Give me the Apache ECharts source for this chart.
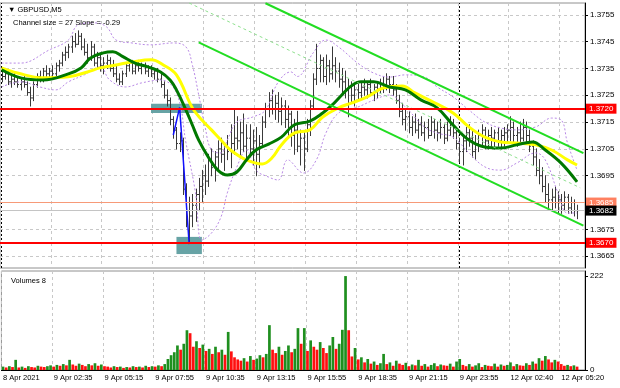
<!DOCTYPE html>
<html><head><meta charset="utf-8">
<script src="https://cdn.jsdelivr.net/npm/echarts@6/dist/echarts.min.js"></script>
<style>html,body{margin:0;padding:0;background:#fff}#c{width:620px;height:388px}</style>
</head><body><div id="c"></div>
<script>
// ---- data ----
const timeLabels = ['8 Apr 2021','9 Apr 02:35','9 Apr 05:15','9 Apr 07:55','9 Apr 10:35','9 Apr 13:15','9 Apr 15:55','9 Apr 18:35','9 Apr 21:15','9 Apr 23:55','12 Apr 02:40','12 Apr 05:20'];
const barsPerLabel = 16;
const firstOpen = 1.3731;
const high = [1.3734,1.3735,1.3734,1.3732,1.3733,1.3732,1.3731,1.3732,1.3730,1.3728,
1.3730,1.3733,1.3734,1.3735,1.3736,1.3735,1.3736,1.3737,1.3738,1.3741,
1.3743,1.3744,1.3747,1.3748,1.3749,1.3748,1.3746,1.3744,1.3745,1.3744,
1.3741,1.3740,1.3739,1.3740,1.3739,1.3738,1.3736,1.3733,1.3734,1.3737,
1.3738,1.3738,1.3737,1.3738,1.3737,1.3737,1.3736,1.3736,1.3735,1.3735,
1.3733,1.3730,1.3727,1.3724,1.3717,1.3713,1.3711,1.3709,1.3692,1.3687,
1.3688,1.3690,1.3694,1.3697,1.3699,1.3703,1.3705,1.3704,1.3708,1.3709,
1.3707,1.3710,1.3714,1.3720,1.3717,1.3715,1.3718,1.3714,1.3714,1.3712,
1.3713,1.3710,1.3717,1.3722,1.3726,1.3727,1.3725,1.3726,1.3724,1.3723,
1.3721,1.3719,1.3716,1.3719,1.3712,1.3711,1.3716,1.3723,1.3733,1.3744,
1.3740,1.3739,1.3740,1.3738,1.3743,1.3739,1.3737,1.3735,1.3734,1.3731,
1.3730,1.3729,1.3730,1.3730,1.3731,1.3730,1.3731,1.3729,1.3730,1.3731,
1.3732,1.3733,1.3732,1.3732,1.3729,1.3725,1.3722,1.3720,1.3719,1.3717,
1.3718,1.3716,1.3717,1.3715,1.3716,1.3717,1.3716,1.3715,1.3716,1.3714,
1.3715,1.3717,1.3716,1.3713,1.3709,1.3710,1.3713,1.3714,1.3712,1.3710,
1.3712,1.3714,1.3713,1.3712,1.3713,1.3712,1.3713,1.3712,1.3713,1.3714,
1.3717,1.3715,1.3713,1.3715,1.3716,1.3715,1.3712,1.3708,1.3705,1.3701,
1.3698,1.3695,1.3692,1.3690,1.3691,1.3689,1.3688,1.3689,1.3688,1.3687,
1.3686,1.3684];
const low = [1.3730,1.3731,1.3729,1.3728,1.3729,1.3728,1.3727,1.3728,1.3725,1.3721,
1.3723,1.3728,1.3730,1.3730,1.3732,1.3731,1.3732,1.3732,1.3734,1.3736,
1.3738,1.3739,1.3741,1.3743,1.3744,1.3742,1.3740,1.3737,1.3738,1.3736,
1.3735,1.3734,1.3733,1.3735,1.3734,1.3732,1.3730,1.3729,1.3729,1.3732,
1.3734,1.3733,1.3733,1.3734,1.3733,1.3733,1.3732,1.3732,1.3731,1.3730,
1.3728,1.3724,1.3721,1.3714,1.3709,1.3705,1.3704,1.3688,1.3676,1.3670,
1.3676,1.3678,1.3682,1.3685,1.3688,1.3691,1.3695,1.3693,1.3697,1.3700,
1.3697,1.3701,1.3698,1.3703,1.3705,1.3702,1.3704,1.3701,1.3703,1.3699,
1.3695,1.3698,1.3706,1.3713,1.3717,1.3718,1.3716,1.3715,1.3714,1.3713,
1.3710,1.3706,1.3703,1.3704,1.3699,1.3697,1.3704,1.3710,1.3720,1.3729,
1.3730,1.3730,1.3729,1.3730,1.3731,1.3730,1.3728,1.3726,1.3724,1.3717,
1.3722,1.3721,1.3723,1.3724,1.3725,1.3724,1.3725,1.3723,1.3724,1.3726,
1.3726,1.3727,1.3726,1.3725,1.3722,1.3717,1.3714,1.3712,1.3711,1.3710,
1.3711,1.3709,1.3710,1.3708,1.3709,1.3710,1.3709,1.3708,1.3709,1.3707,
1.3708,1.3710,1.3709,1.3705,1.3700,1.3699,1.3704,1.3706,1.3702,1.3701,
1.3704,1.3706,1.3705,1.3705,1.3706,1.3705,1.3706,1.3705,1.3706,1.3707,
1.3708,1.3707,1.3706,1.3707,1.3708,1.3707,1.3704,1.3699,1.3695,1.3692,
1.3689,1.3685,1.3683,1.3682,1.3683,1.3681,1.3681,1.3682,1.3681,1.3681,
1.3680,1.3679];
const close = [1.3732,1.3733,1.3730,1.3731,1.3730,1.3729,1.3730,1.3729,1.3726,1.3724,
1.3729,1.3732,1.3731,1.3734,1.3733,1.3734,1.3733,1.3736,1.3737,1.3740,
1.3741,1.3743,1.3745,1.3744,1.3747,1.3743,1.3741,1.3739,1.3743,1.3737,
1.3739,1.3736,1.3737,1.3738,1.3735,1.3733,1.3731,1.3730,1.3733,1.3736,
1.3737,1.3734,1.3736,1.3735,1.3736,1.3734,1.3735,1.3733,1.3734,1.3731,
1.3729,1.3725,1.3723,1.3716,1.3712,1.3707,1.3708,1.3690,1.3682,1.3680,
1.3684,1.3688,1.3691,1.3695,1.3693,1.3701,1.3698,1.3702,1.3705,1.3703,
1.3706,1.3704,1.3707,1.3709,1.3708,1.3711,1.3706,1.3709,1.3705,1.3708,
1.3703,1.3707,1.3715,1.3720,1.3723,1.3720,1.3722,1.3719,1.3721,1.3716,
1.3718,1.3710,1.3712,1.3706,1.3709,1.3705,1.3714,1.3721,1.3731,1.3735,
1.3738,1.3732,1.3736,1.3733,1.3736,1.3734,1.3731,1.3730,1.3727,1.3728,
1.3725,1.3727,1.3726,1.3728,1.3727,1.3729,1.3726,1.3728,1.3727,1.3729,
1.3728,1.3731,1.3729,1.3727,1.3723,1.3719,1.3716,1.3717,1.3713,1.3715,
1.3712,1.3714,1.3711,1.3713,1.3710,1.3715,1.3712,1.3711,1.3713,1.3709,
1.3712,1.3714,1.3711,1.3707,1.3704,1.3708,1.3711,1.3709,1.3704,1.3707,
1.3710,1.3712,1.3708,1.3710,1.3709,1.3711,1.3708,1.3710,1.3711,1.3712,
1.3713,1.3710,1.3711,1.3709,1.3713,1.3710,1.3706,1.3702,1.3697,1.3695,
1.3691,1.3688,1.3686,1.3687,1.3685,1.3686,1.3684,1.3687,1.3683,1.3685,
1.3682,1.3682];
const volume = [8,6,9,7,24,6,8,5,9,7,6,10,8,7,9,11,8,
12,10,14,11,24,13,10,15,12,9,14,11,16,10,13,9,
8,6,9,7,8,5,7,6,9,7,8,6,10,7,9,8,11,9,14,
26,35,42,58,48,62,94,87,
55,68,52,60,45,50,38,55,42,48,36,90,44,
30,25,22,28,20,33,24,27,35,30,38,106,
48,40,55,36,45,58,42,50,99,
62,99,45,70,55,48,66,52,40,58,78,50,62,95,
222,94,
32,52,25,30,18,26,15,
20,12,16,38,14,18,10,22,15,12,17,9,13,11,24,10,14,8,12,16,9,13,11,10,15,8,20,26,
12,9,14,8,11,16,7,12,10,9,15,8,13,10,12,18,9,14,11,10,16,12,
20,15,28,22,33,25,18,24,20,
14,10,12,9,11,8];
const yellowMA = [[0,1.37352],[5,1.37333],[13,1.37315],[21,1.37319],[27,1.37337],[31,1.37352],[36,1.37363],[41,1.37374],[47,1.37382],[51,1.37362],[55,1.37326],[60,1.37203],[63,1.37158],[66,1.37121],[69,1.37083],[72,1.37046],[77,1.37009],[82,1.36994],[85,1.37016],[88,1.37065],[92,1.37109],[97,1.37121],[101,1.37169],[106,1.37203],[110,1.37221],[115,1.37244],[120,1.37277],[126,1.37285],[130,1.37259],[135,1.37229],[142,1.37184],[147,1.37132],[152,1.37094],[157,1.37076],[162,1.37072],[168,1.37065],[173,1.37046],[178,1.37009],[181,1.36990]];
const greenMA = [[0,1.37345],[6,1.37315],[13,1.37307],[21,1.37330],[25,1.37352],[28,1.37389],[32,1.37408],[35,1.37412],[38,1.37395],[42,1.37370],[46,1.37356],[50,1.37337],[53,1.37307],[55,1.37270],[58,1.37195],[60,1.37139],[62,1.37083],[65,1.37020],[68,1.36971],[71,1.36953],[74,1.36964],[77,1.37009],[80,1.37046],[84,1.37068],[88,1.37094],[92,1.37139],[97,1.37154],[101,1.37184],[104,1.37214],[107,1.37251],[110,1.37285],[113,1.37300],[117,1.37300],[122,1.37281],[127,1.37270],[132,1.37232],[137,1.37203],[142,1.37139],[147,1.37083],[152,1.37057],[157,1.37053],[162,1.37065],[167,1.37076],[171,1.37046],[176,1.36997],[181,1.36927]];
const bandUpper = [[0,1.3737],[6,1.3737],[15,1.37419],[21,1.37456],[24,1.37512],[29,1.3752],[33,1.37505],[36,1.37456],[41,1.37445],[47,1.37438],[54,1.37445],[58,1.3743],[60,1.37363],[62,1.37251],[64,1.37132],[66,1.37046],[69,1.37035],[71,1.37083],[74,1.3715],[79,1.37169],[83,1.37195],[87,1.37299],[91,1.37337],[93,1.3732],[98,1.37408],[102,1.37456],[106,1.3743],[112,1.3737],[117,1.37333],[122,1.37318],[127,1.37326],[133,1.37318],[137,1.37281],[142,1.37244],[147,1.37195],[152,1.3715],[157,1.37128],[162,1.37121],[168,1.37132],[173,1.37165],[176,1.37158],[178,1.37072],[181,1.36971]];
const bandLower = [[0,1.37281],[6,1.373],[12,1.37281],[17,1.3727],[21,1.373],[26,1.37326],[31,1.37356],[34,1.37307],[39,1.37281],[44,1.37296],[50,1.37307],[55,1.37259],[58,1.37072],[61,1.36886],[63,1.3671],[66,1.36736],[69,1.36796],[71,1.36886],[74,1.36983],[77,1.37046],[80,1.36971],[84,1.36945],[87,1.36934],[90,1.37009],[95,1.3696],[99,1.37009],[102,1.37109],[106,1.37184],[112,1.37206],[117,1.37232],[122,1.37251],[127,1.37206],[133,1.37132],[137,1.37109],[142,1.37094],[147,1.37035],[152,1.36983],[157,1.36971],[162,1.36997],[168,1.37035],[171,1.37009],[175,1.36886],[178,1.36811],[181,1.36811]];
const channelUpper = [[83,1.37593],[183,1.37034]];
const channelLower = [[62,1.37447],[183,1.36764]];
const channelMiddle = [[59,1.37594],[182,1.36905]];
const blueWave = [[54,1.37102],[56,1.37205],[59,1.36695]];
const zoneUpper = [[47,1.37218],[63,1.37184]];
const zoneLower = [[55,1.36722],[63,1.36658]];
const resistance = 1.3720, support = 1.3670, askLine = 1.3685, bidLine = 1.3682;
const priceTicks = [1.3665,1.3675,1.3685,1.3695,1.3705,1.3715,1.3725,1.3735,1.3745,1.3755];
const volumeTicks = [0,222];
const separators = [0,144];
const priceMin = 1.36606, priceMax = 1.37594, volumeMax = 234;
const slotCount = 184;

// ---- build ----
const cats = Array.from({length: slotCount}, (_, i) => String(i));
const ohlc = close.map((c, i) => [i, i === 0 ? firstOpen : close[i - 1], c, low[i], high[i]]);
const volData = volume.map((v, i) => ({value: v, itemStyle: {color: (i === 0 || v > volume[i - 1]) ? '#1f8f1f' : '#ff1010'}}));
const gridInterval = (idx) => idx % barsPerLabel === 0 && idx / barsPerLabel < timeLabels.length;
const FONT = 'Liberation Sans';
const barColor = '#3a3a3a';
const bandColor = '#b98ae6';

const chart = echarts.init(document.getElementById('c'), null, {renderer: 'canvas'});
const lvlLabel = (bg, fg) => ({show: true, position: 'end', distance: 1, formatter: p => Number(p.value).toFixed(4), backgroundColor: bg, color: fg, fontFamily: FONT, fontSize: 8, padding: [1, 3, 1, 3]});
chart.setOption({
  animation: false,
  backgroundColor: '#fff',
  title: [
    {text: '▼ GBPUSD,M5', left: 3, top: 1, textStyle: {fontFamily: FONT, fontSize: 7.5, fontWeight: 'normal', color: '#000'}},
    {text: 'Channel size = 27 Slope = -0.29', left: 8, top: 14, textStyle: {fontFamily: FONT, fontSize: 7.5, fontWeight: 'normal', color: '#000'}},
    {text: 'Volumes 8', left: 6, top: 272, textStyle: {fontFamily: FONT, fontSize: 7.5, fontWeight: 'normal', color: '#000'}}
  ],
  grid: [
    {left: 0, right: 35, top: 3, height: 265, show: true, borderColor: '#909090', borderWidth: 1, backgroundColor: '#fff'},
    {left: 0, right: 35, top: 271, height: 99, show: true, borderColor: '#909090', borderWidth: 1, backgroundColor: '#fff'}
  ],
  xAxis: [
    {type: 'category', gridIndex: 0, data: cats, boundaryGap: true,
     axisLine: {show: false}, axisTick: {show: false}, axisLabel: {show: false},
     splitLine: {show: true, interval: gridInterval, lineStyle: {color: '#c8c8c8', type: [3, 3], width: 1}}},
    {type: 'category', gridIndex: 1, data: cats, boundaryGap: true,
     axisLine: {show: true, lineStyle: {color: '#000'}}, axisTick: {show: false},
     axisLabel: {show: true, interval: gridInterval, align: 'left', margin: 4, fontFamily: FONT, fontSize: 7.5, color: '#000',
       formatter: (v, idx) => timeLabels[Math.round(idx / barsPerLabel)] || ''},
     splitLine: {show: true, interval: gridInterval, lineStyle: {color: '#c8c8c8', type: [3, 3], width: 1}}}
  ],
  yAxis: [
    {type: 'value', gridIndex: 0, position: 'right', min: priceMin, max: priceMax, scale: true,
     axisLine: {show: true, lineStyle: {color: '#000'}},
     axisTick: {show: true, length: 3, customValues: priceTicks, lineStyle: {color: '#000'}},
     axisLabel: {show: true, customValues: priceTicks, margin: 5, fontFamily: FONT, fontSize: 8, color: '#000', formatter: v => v.toFixed(4)},
     splitLine: {show: false}},
    {type: 'value', gridIndex: 1, position: 'right', min: 0, max: volumeMax,
     axisLine: {show: true, lineStyle: {color: '#000'}},
     axisTick: {show: true, length: 3, customValues: volumeTicks, lineStyle: {color: '#000'}},
     axisLabel: {show: true, customValues: volumeTicks, margin: 5, fontFamily: FONT, fontSize: 8, color: '#000'},
     splitLine: {show: false}}
  ],
  series: [
    {name: 'price', type: 'custom', xAxisIndex: 0, yAxisIndex: 0, z: 3, data: ohlc, encode: {x: 0, y: [1, 2, 3, 4]},
     renderItem: (params, api) => {
       const x = api.value(0);
       const o = api.coord([x, api.value(1)]), c = api.coord([x, api.value(2)]);
       const l = api.coord([x, api.value(3)]), h = api.coord([x, api.value(4)]);
       const px = Math.round(o[0]) + 0.5;
       const st = {stroke: barColor, lineWidth: 1};
       return {type: 'group', children: [
         {type: 'line', shape: {x1: px, y1: h[1] - 0.5, x2: px, y2: l[1] + 0.5}, style: st},
         {type: 'line', shape: {x1: px - 1.5, y1: o[1], x2: px, y2: o[1]}, style: st},
         {type: 'line', shape: {x1: px, y1: c[1], x2: px + 1.5, y2: c[1]}, style: st}
       ]};
     }},
    {name: 'bandUpper', type: 'line', data: bandUpper, smooth: 0.4, symbol: 'none', z: 4, lineStyle: {color: bandColor, width: 1, type: [2, 2]},
     markLine: {z: 1, precision: 6, silent: true, symbol: ['none', 'none'], label: {show: false}, animation: false,
       data: priceTicks.map(v => ({yAxis: v, lineStyle: {color: '#c8c8c8', type: [3, 3], width: 1}}))
         .concat(separators.map(s => ({xAxis: s, lineStyle: {color: '#000', type: [2, 2], width: 1}})))}},
    {name: 'bandLower', type: 'line', data: bandLower, smooth: 0.4, symbol: 'none', z: 4, lineStyle: {color: bandColor, width: 1, type: [2, 2]},
     markLine: {z: 10, precision: 6, silent: true, symbol: ['none', 'none'], animation: false,
       data: [
         {yAxis: askLine, lineStyle: {color: '#f79a78', width: 1, type: 'solid'}, label: lvlLabel('#ff8060', '#fff')},
         {yAxis: bidLine, lineStyle: {color: '#c4c4c4', width: 1, type: 'solid'}, label: lvlLabel('#000', '#fff')},
         {yAxis: resistance, lineStyle: {color: '#ff0000', width: 2, type: 'solid'}, label: lvlLabel('#ff0000', '#fff')},
         {yAxis: support, lineStyle: {color: '#ff0000', width: 2, type: 'solid'}, label: lvlLabel('#ff0000', '#fff')}
       ]}},
    {name: 'yellowMA', type: 'line', data: yellowMA, smooth: 0.4, symbol: 'none', z: 5, lineStyle: {color: '#ffff00', width: 3},
     markArea: {z: 2, silent: true, itemStyle: {color: '#5f9ea0', opacity: 0.95},
       data: [[{coord: zoneUpper[0]}, {coord: zoneUpper[1]}], [{coord: zoneLower[0]}, {coord: zoneLower[1]}]]}},
    {name: 'greenMA', type: 'line', data: greenMA, smooth: 0.4, symbol: 'none', z: 6, lineStyle: {color: '#007800', width: 3}},
    {name: 'chUpper', type: 'line', data: channelUpper, symbol: 'none', z: 7, lineStyle: {color: '#22dd22', width: 2}},
    {name: 'chLower', type: 'line', data: channelLower, symbol: 'none', z: 7, lineStyle: {color: '#22dd22', width: 2}},
    {name: 'chMid', type: 'line', data: channelMiddle, symbol: 'none', z: 7, lineStyle: {color: '#8fe08f', width: 1, type: [3, 3]}},
    {name: 'wave', type: 'line', data: blueWave, symbol: 'none', z: 8, lineStyle: {color: '#1010ff', width: 1.5}},
    {name: 'Volumes', type: 'bar', xAxisIndex: 1, yAxisIndex: 1, data: volData, barCategoryGap: '15%', z: 3}
  ]
});
</script></body></html>
